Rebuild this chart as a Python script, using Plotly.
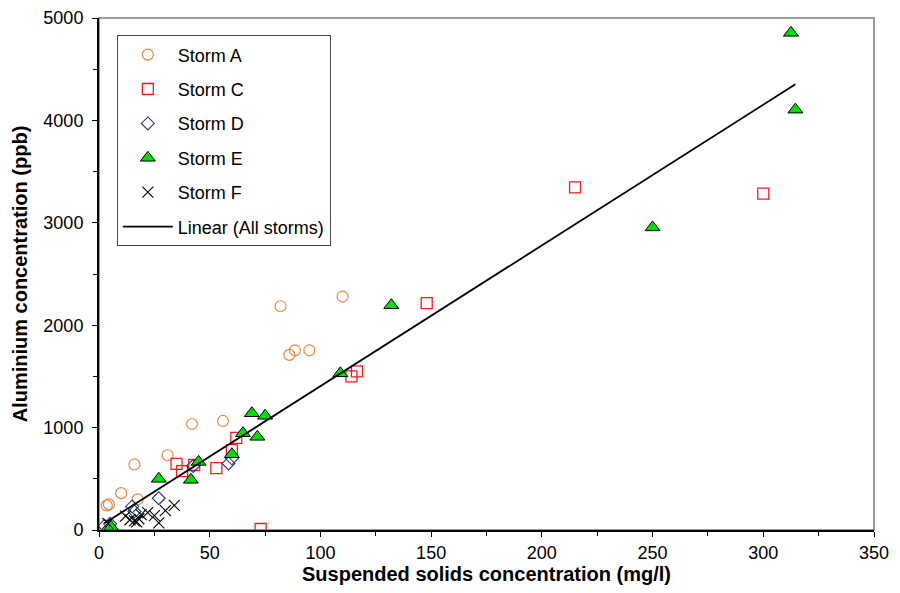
import plotly.graph_objects as go

# Storm data: suspended solids (mg/l) vs aluminium (ppb)
stormA_x = [3.5, 4.5, 10, 17.5, 16, 31, 42, 56, 82, 86, 88.5, 95, 110]
stormA_y = [240, 250, 360, 300, 640, 730, 1035, 1065, 2185, 1710, 1755, 1755, 2280]

stormC_x = [35, 37.5, 43, 53, 60, 62, 73, 114, 116.5, 148, 215, 300]
stormC_y = [645, 575, 635, 605, 780, 900, 10, 1500, 1550, 2215, 3345, 3285]

stormD_x = [2.5, 5, 15, 16, 27, 42.5, 58.5, 60]
stormD_y = [40, 60, 230, 180, 310, 625, 650, 700]

stormE_x = [5.5, 27, 41.5, 45, 60, 65, 69, 71.5, 75, 109, 132, 250, 312.5, 314.5]
stormE_y = [30, 500, 490, 665, 740, 945, 1140, 910, 1115, 1530, 2195, 2955, 4855, 4105]

stormF_x = [4, 12, 14, 16, 17, 18, 19, 22, 25, 27, 30, 34]
stormF_y = [65, 135, 100, 90, 80, 110, 150, 170, 140, 70, 190, 240]

# Linear trend (all storms)
trend_slope = 13.74
trend_intercept = 31.0

all_x = stormA_x + stormC_x + stormD_x + stormE_x + stormF_x
tx = [min(all_x), max(all_x)]
ty = [trend_slope * v + trend_intercept for v in tx]

FONT = "Arial"

fig = go.Figure()
fig.add_trace(go.Scatter(x=stormA_x, y=stormA_y, mode="markers", name="Storm A",
                         legendgroup="a",
                         marker=dict(symbol="circle-open", size=11, color="#E8883F",
                                     line=dict(width=1.2, color="#E8883F"))))
fig.add_trace(go.Scatter(x=stormC_x, y=stormC_y, mode="markers", name="Storm C",
                         legendgroup="c",
                         marker=dict(symbol="square-open", size=11, color="#FF1A1A",
                                     line=dict(width=1.3, color="#FF1A1A"))))
fig.add_trace(go.Scatter(x=stormD_x, y=stormD_y, mode="markers", name="Storm D",
                         legendgroup="d",
                         marker=dict(symbol="diamond-open", size=10, color="#1F3A7A",
                                     line=dict(width=1.1, color="#1F3A7A"))))
fig.add_trace(go.Scatter(x=stormE_x, y=stormE_y, mode="markers", name="Storm E",
                         legendgroup="e",
                         marker=dict(symbol="triangle-up", size=13, color="#00DD00",
                                     line=dict(width=1, color="black"))))
fig.add_trace(go.Scatter(x=stormF_x, y=stormF_y, mode="markers", name="Storm F",
                         legendgroup="f",
                         marker=dict(symbol="x-thin-open", size=11, color="black",
                                     line=dict(width=1.1, color="black"))))
fig.add_trace(go.Scatter(x=tx, y=ty, mode="lines", name="Linear (All storms)",
                         legendgroup="g",
                         line=dict(color="black", width=1.8)))

# page body adds an 8px offset; size the figure so the plot lands where the reference has it
fig.update_layout(
    width=884, height=577,
    margin=dict(l=91, r=18, t=10, b=55, autoexpand=False),
    paper_bgcolor="white", plot_bgcolor="white",
    font=dict(family=FONT, size=17, color="black"),
    showlegend=True,
    legend=dict(x=0.023, y=0.966, xanchor="left", yanchor="top",
                bordercolor="#444444", borderwidth=1, bgcolor="white",
                font=dict(family=FONT, size=18, color="black"),
                traceorder="grouped", tracegroupgap=8,
                itemwidth=50),
    shapes=[dict(type="rect", xref="paper", yref="paper", x0=0, y0=0, x1=1, y1=1,
                 line=dict(color="#7F7F7F", width=1.5), layer="below")],
)
fig.update_xaxes(range=[0, 350], tickvals=[0, 50, 100, 150, 200, 250, 300, 350],
                 automargin=False, ticklabeloverflow="allow",
                 showgrid=False, zeroline=False, showline=True, linecolor="black", linewidth=2,
                 ticks="outside", ticklen=5, tickwidth=1, tickcolor="black",
                 minor=dict(ticks="outside", dtick=25, ticklen=4, tickcolor="black"),
                 tickfont=dict(family=FONT, size=18),
                 title=dict(text="<b>Suspended solids concentration (mg/l)</b>",
                            font=dict(family=FONT, size=20), standoff=18))
fig.update_yaxes(range=[0, 5000], tickvals=[0, 1000, 2000, 3000, 4000, 5000],
                 ticktext=["0 ", "1000 ", "2000 ", "3000 ", "4000 ", "5000 "],
                 automargin=False, ticklabeloverflow="allow",
                 showgrid=False, zeroline=False, showline=True, linecolor="black", linewidth=2,
                 ticks="outside", ticklen=5, tickwidth=1, tickcolor="black",
                 minor=dict(ticks="outside", dtick=500, ticklen=4, tickcolor="black"),
                 tickfont=dict(family=FONT, size=18),
                 title=dict(text="<b>Aluminium concentration (ppb)</b>",
                            font=dict(family=FONT, size=20), standoff=10))

fig.write_html("out.html")
